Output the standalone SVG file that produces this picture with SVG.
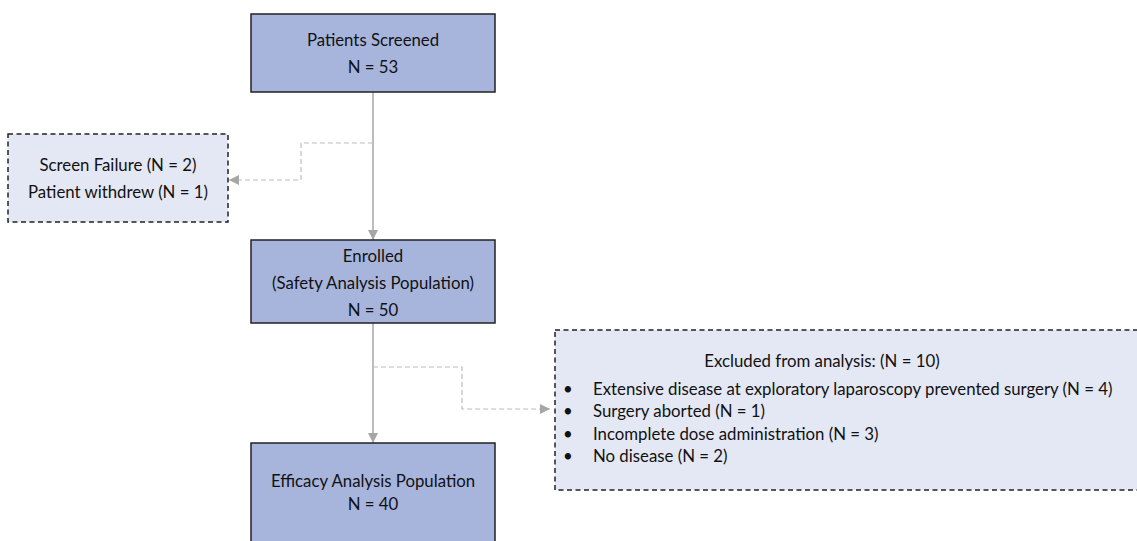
<svg xmlns="http://www.w3.org/2000/svg" width="1137" height="541" viewBox="0 0 1137 541">
<style>
text{font-family:"Lato","Liberation Sans",sans-serif;font-size:16.8px;fill:#111}
.c{text-anchor:middle}
.main{fill:#a7b5dd;stroke:#222;stroke-width:1.5}
.side{fill:#e4e8f4;stroke:#222;stroke-width:1.5;stroke-dasharray:5 3.5}
.solid{fill:none;stroke:#a6a6a6;stroke-width:1.5}
.dash{fill:none;stroke:#bdbdbd;stroke-width:1.2;stroke-dasharray:5 3}
</style>
<defs>
<marker id="ah" viewBox="0 0 10 10" refX="10" refY="5" markerWidth="10" markerHeight="10" markerUnits="userSpaceOnUse" orient="auto">
<path d="M0,0 L10,5 L0,10 Z" fill="#a6a6a6"/>
</marker>
</defs>
<rect width="1137" height="541" fill="#fff"/>
<g id="connectors">
<path class="solid" d="M373,92 V240" marker-end="url(#ah)"/>
<path class="solid" d="M373,323 V443" marker-end="url(#ah)"/>
<path class="dash" d="M373,143 H301 V180 H229" marker-end="url(#ah)"/>
<path class="dash" d="M373,367 H462 V409 H550" marker-end="url(#ah)"/>
</g>
<g id="screened">
<rect class="main" x="251" y="14" width="244" height="78"/>
<text class="c" x="373" y="46">Patients Screened</text>
<text class="c" x="373" y="73">N = 53</text>
</g>
<g id="screen-failure">
<rect class="side" x="8" y="134" width="220" height="88"/>
<text class="c" x="118" y="171">Screen Failure (N = 2)</text>
<text class="c" x="118" y="198">Patient withdrew (N = 1)</text>
</g>
<g id="enrolled">
<rect class="main" x="251" y="240" width="244" height="83"/>
<text class="c" x="373" y="262">Enrolled</text>
<text class="c" x="373" y="289">(Safety Analysis Population)</text>
<text class="c" x="373" y="316">N = 50</text>
</g>
<g id="efficacy">
<rect class="main" x="251" y="443" width="244" height="110"/>
<text class="c" x="373" y="487">Efficacy Analysis Population</text>
<text class="c" x="373" y="510">N = 40</text>
</g>
<g id="excluded">
<rect class="side" x="555" y="330" width="600" height="160"/>
<text class="c" x="822" y="367">Excluded from analysis: (N = 10)</text>
<text x="563" y="395">•</text><text x="593" y="395">Extensive disease at exploratory laparoscopy prevented surgery (N = 4)</text>
<text x="563" y="417">•</text><text x="593" y="417">Surgery aborted (N = 1)</text>
<text x="563" y="440">•</text><text x="593" y="440">Incomplete dose administration (N = 3)</text>
<text x="563" y="462">•</text><text x="593" y="462">No disease (N = 2)</text>
</g>
</svg>
